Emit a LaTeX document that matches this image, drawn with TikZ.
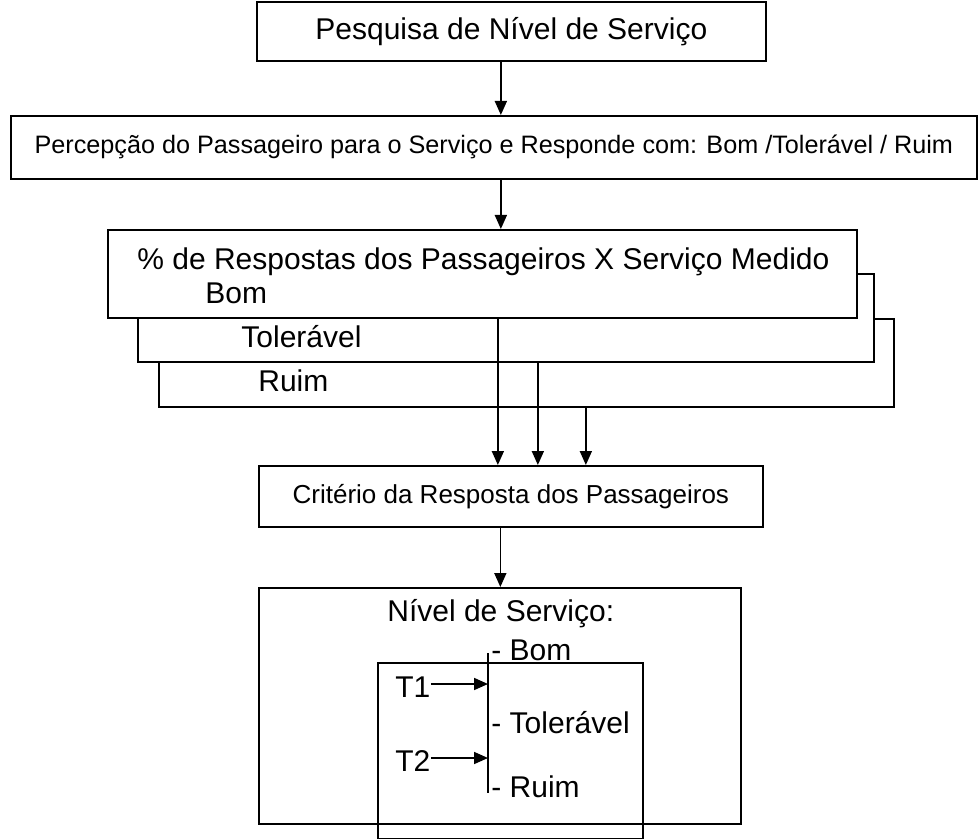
\documentclass[tikz,border=0pt]{standalone}
\usepackage{fontspec}
\setmainfont{Liberation Sans}
\usetikzlibrary{arrows.meta, positioning}

\begin{document}
\begin{tikzpicture}[x=0.5pt, y=-0.5pt,
    box/.style={draw, line width=0.85pt, anchor=north west, inner sep=0pt},
    stackbox/.style={box, fill=white, minimum width=372pt, minimum height=44pt},
    txt/.style={anchor=west, inner sep=0pt, font=\fontsize{15}{18}\selectfont},
    arr/.style={line width=0.85pt, -{Triangle[length=7pt, width=6pt]}}]

\useasboundingbox (0,0) rectangle (978,839);

% Top: survey
\node[box, minimum width=254.5pt, minimum height=29.5pt, font=\fontsize{15}{18}\selectfont] (pesq) at (256,1) {Pesquisa de Nível de Serviço};
\node[box, minimum width=483pt, minimum height=31.5pt, font=\fontsize{12.6}{15}\selectfont] (perc) at (10,115) {Percepção do Passageiro para o Serviço e Responde com: Bom /Tolerável / Ruim};

% Stacked answer boxes (back to front)
\node[stackbox, minimum width=367.5pt, minimum height=44pt] (pruim) at (158,318) {};
\node[stackbox, minimum width=368pt, minimum height=44pt] (ptol) at (137,273) {};
\node[stackbox, minimum width=374.5pt, minimum height=44pt] (pbom) at (107,229) {};
\node[txt] (lbom1) at (137,262) {\% de Respostas dos Passageiros X Serviço Medido};
\node[txt] (lbom2) at (205,293) {Bom};
\node[txt] (ltol) at (241,337) {Tolerável};
\node[txt] (lruim) at (258,381) {Ruim};

% Criterion
\node[box, minimum width=252pt, minimum height=30.5pt, font=\fontsize{13}{16}\selectfont] (crit) at (258,465) {Critério da Resposta dos Passageiros};

% Service level
\node[box, minimum width=241pt, minimum height=118pt] (nivel) at (258,587) {};
\node[box, minimum width=132.5pt, minimum height=88pt] (faixa) at (377,662) {};
\node[txt] (lnivel) at (387,614) {Nível de Serviço:};
\node[txt] (nbom) at (491,650) {- Bom};
\node[txt] (ntol) at (491,723) {- Tolerável};
\node[txt] (nruim) at (491,787) {- Ruim};
\node[txt] (t1) at (395,687) {T1};
\node[txt] (t2) at (395,761) {T2};
\coordinate (bartop) at (488,653);
\coordinate (barbot) at (488,793);

% Connections
\draw[arr] ([xshift=-5.25pt]pesq.south) -- ([xshift=-5.25pt]pesq.south |- perc.north);
\draw[arr] ([xshift=-5.25pt]pesq.south |- perc.south) -- ([xshift=-5.25pt]pesq.south |- pbom.north);
\draw[arr] ([xshift=-6.5pt]crit.north |- pbom.south) -- ([xshift=-6.5pt]crit.north);
\draw[arr] ([xshift=13.5pt]crit.north |- ptol.south) -- ([xshift=13.5pt]crit.north);
\draw[arr] ([xshift=37.5pt]crit.north |- pruim.south) -- ([xshift=37.5pt]crit.north);
\draw[arr] ([xshift=-5.25pt]crit.south) -- ([xshift=-5.25pt]crit.south |- nivel.north);

\draw[line width=0.85pt] (bartop) -- (barbot);
\draw[arr] ([yshift=1.5pt]t1.east) -- ([yshift=1.5pt]t1.east -| bartop);
\draw[arr] ([yshift=1.5pt]t2.east) -- ([yshift=1.5pt]t2.east -| bartop);

\end{tikzpicture}
\end{document}
